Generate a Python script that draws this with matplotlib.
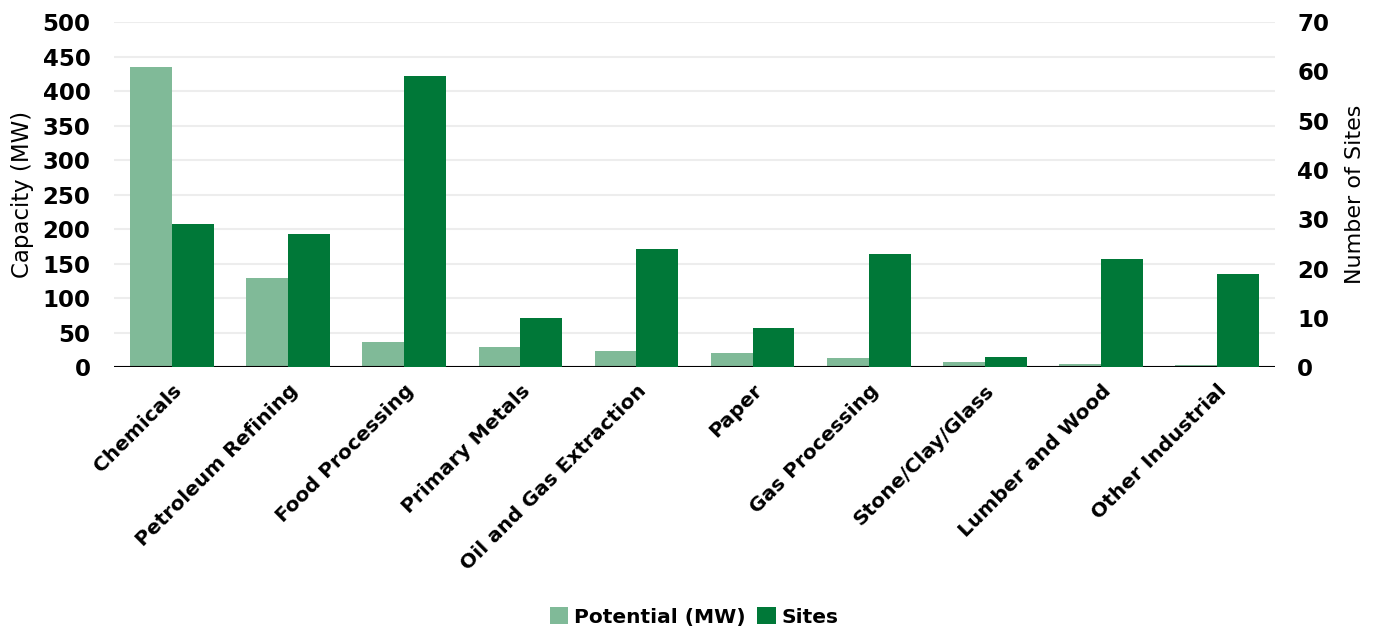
import matplotlib
matplotlib.use("Agg")
import matplotlib.pyplot as plt
import numpy as np

categories = ["Chemicals", "Petroleum Refining", "Food Processing", "Primary Metals",
              "Oil and Gas Extraction", "Paper", "Gas Processing", "Stone/Clay/Glass",
              "Lumber and Wood", "Other Industrial"]
potential_mw = [435, 130, 37, 30, 23, 20, 14, 7, 5, 3]
sites = [29, 27, 59, 10, 24, 8, 23, 2, 22, 19]
left_ticks = list(range(0, 501, 50))
right_ticks = list(range(0, 71, 10))

light_green = "#80BA98"
dark_green = "#007838"

plt.rcParams["font.family"] = ["DejaVu Sans"]

fig = plt.figure(figsize=(13.8, 6.31), dpi=100)
ax = fig.add_axes([0.0826, 0.418, 0.8414, 0.547])
ax2 = ax.twinx()

x = np.arange(len(categories))
w = 0.36
ax.bar(x - w / 2, potential_mw, width=w, color=light_green, label="Potential (MW)", zorder=3)
ax2.bar(x + w / 2, sites, width=w, color=dark_green, label="Sites", zorder=3)

ax.set_xlim(-0.5, len(categories) - 0.5)
ax.set_ylim(0, 500)
ax2.set_ylim(0, 70)
ax.set_yticks(left_ticks)
ax2.set_yticks(right_ticks)
ax.grid(axis="y", color="#EDEDED", linewidth=1.5, zorder=0)
ax.set_axisbelow(True)

for a in (ax, ax2):
    for s in ("top", "left", "right", "bottom"):
        a.spines[s].set_visible(False)
    a.tick_params(length=0)
ax.axhline(0, color="black", linewidth=1.5, zorder=5)

ax.tick_params(axis="y", labelsize=16.5, pad=17)
ax2.tick_params(axis="y", labelsize=16.5, pad=16)
for lbl in ax.get_yticklabels() + ax2.get_yticklabels():
    lbl.set_fontweight("bold")

ax.set_xticks(x)
ax.set_xticklabels(categories, rotation=45, ha="right", rotation_mode="anchor",
                   fontsize=14.5, fontweight="bold")
ax.tick_params(axis="x", pad=10)

ax.set_ylabel("Capacity (MW)", fontsize=16.5, labelpad=6)
ax2.set_ylabel("Number of Sites", fontsize=16, labelpad=11)

ax2.set_zorder(ax.get_zorder() + 1)
ax.patch.set_visible(True)
ax2.patch.set_visible(False)

handles = [ax.patches[0], ax2.patches[0]]
fig.legend(handles, ["Potential (MW)", "Sites"], loc="center", bbox_to_anchor=(0.503, 0.022),
           ncol=2, frameon=False, prop={"size": 14.5, "weight": "bold"},
           handlelength=0.9, handleheight=0.9, handletextpad=0.3, columnspacing=0.6)

fig.savefig("out.png", dpi=100)
